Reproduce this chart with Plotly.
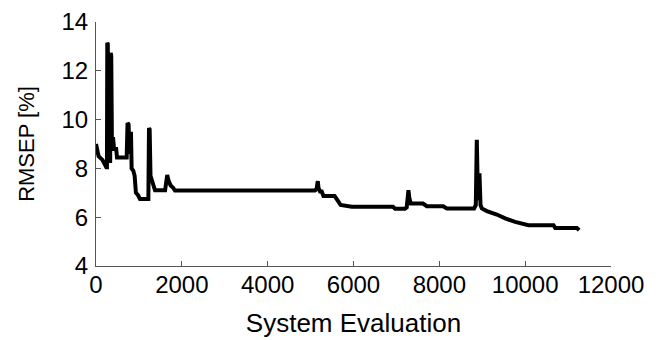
import plotly.graph_objects as go

evaluations = [0, 30, 60, 150, 200, 240, 255, 263, 275, 290, 330, 343, 355, 370, 400, 420, 470, 490, 715,
               735, 760, 775, 800, 815, 830, 870, 900, 930, 980, 1025, 1220, 1235, 1250, 1270, 1300, 1340,
               1375, 1610, 1640, 1660, 1690, 1740, 1800, 1840, 5100, 5140, 5168, 5185, 5221, 5260, 5300,
               5560, 5625, 5700, 5960, 6920, 6970, 7200, 7240, 7280, 7300, 7335, 7620, 7708, 8090, 8174,
               8810, 8850, 8873, 8900, 8935, 8960, 8990, 9107, 9340, 9534, 9767, 10077, 10660, 10700,
               11205, 11259]
rmsep = [9.0, 8.75, 8.5, 8.35, 8.15, 8.05, 8.05, 13.15, 13.1, 8.3, 8.3, 12.74, 12.6, 9.2, 9.2, 8.8, 8.8,
         8.45, 8.45, 9.86, 9.8, 8.6, 9.5, 9.5, 8.0, 7.9, 7.7, 7.0, 6.9, 6.75, 6.75, 9.65, 9.6, 7.7, 7.5,
         7.3, 7.1, 7.1, 7.5, 7.73, 7.5, 7.3, 7.2, 7.09, 7.09, 7.15, 7.48, 7.2, 7.05, 7.05, 6.87, 6.87,
         6.7, 6.5, 6.43, 6.43, 6.35, 6.35, 6.4, 7.11, 6.8, 6.56, 6.56, 6.45, 6.45, 6.36, 6.36, 6.5, 9.17,
         6.7, 7.8, 6.5, 6.36, 6.25, 6.11, 5.95, 5.81, 5.67, 5.67, 5.56, 5.56, 5.47]

x_ticks = [0, 2000, 4000, 6000, 8000, 10000, 12000]
y_ticks = [4, 6, 8, 10, 12, 14]

family = "Liberation Sans, Arial, sans-serif"
tick_font = dict(family=family, size=24, color="black")
axis_color = "#555555"

fig = go.Figure(go.Scatter(x=evaluations, y=rmsep, mode="lines",
                           line=dict(color="black", width=4), showlegend=False))

fig.update_layout(
    width=659, height=332,
    margin=dict(l=88, r=56, t=14, b=74),
    paper_bgcolor="white", plot_bgcolor="white",
    font=tick_font,
)
fig.update_xaxes(range=[0, 12000], tickvals=x_ticks, ticktext=[str(v) for v in x_ticks],
                 showgrid=False, zeroline=False, showline=True, linecolor=axis_color, linewidth=1,
                 ticks="inside", ticklen=5, tickcolor=axis_color, automargin=False,
                 ticklabelstandoff=-3, ticklabeloverflow="allow",
                 title=dict(text="System Evaluation", standoff=17,
                            font=dict(family=family, size=26, color="black")),
                 tickfont=tick_font)
fig.update_yaxes(range=[4, 14], tickvals=y_ticks, ticktext=[str(v) for v in y_ticks],
                 showgrid=False, zeroline=False, showline=True, linecolor=axis_color, linewidth=1,
                 ticks="inside", ticklen=5, tickcolor=axis_color, automargin=False,
                 ticklabelstandoff=2, ticklabeloverflow="allow",
                 title=dict(text="RMSEP [%]", standoff=20,
                            font=dict(family=family, size=22, color="black")),
                 tickfont=tick_font)

fig.write_html("out.html")
